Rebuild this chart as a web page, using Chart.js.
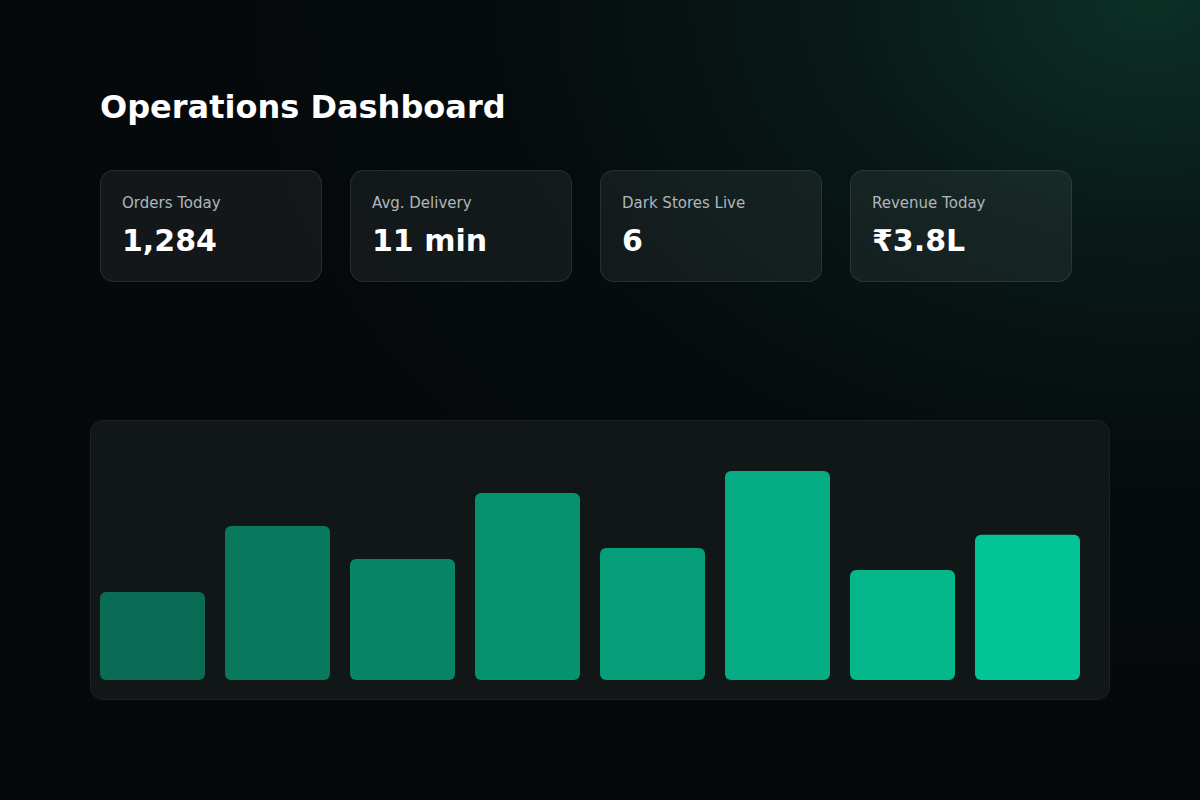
<!DOCTYPE html>
<html>
<head>
<meta charset="utf-8">
<script src="https://cdn.jsdelivr.net/npm/chart.js@4.4.1/dist/chart.umd.min.js"></script>
<style>
  html, body { margin: 0; padding: 0; }
  body {
    width: 1200px; height: 800px; overflow: hidden; position: relative;
    font-family: "DejaVu Sans", sans-serif;
    background-color: #05090c;
    background-image: radial-gradient(ellipse 1050px 780px at 1150px 0px, rgba(13,52,40,0.9) 0%, rgba(10,36,30,0.6) 30%, rgba(7,20,18,0.3) 60%, rgba(5,9,12,0) 88%);
  }
  h1 {
    position: absolute; left: 100px; top: 87px; margin: 0;
    font-size: 32px; font-weight: bold; color: #ffffff; line-height: 40px;
  }
  .card {
    position: absolute; top: 170px; width: 220px; height: 110px;
    border: 1px solid rgba(255,255,255,0.09); border-radius: 14px;
    background: rgba(255,255,255,0.06);
    box-sizing: content-box;
  }
  .card .lab { position: absolute; left: 21px; top: 23px; font-size: 15px; line-height: 18px; color: #aeb6ba; }
  .card .val { position: absolute; left: 21px; top: 52px; font-size: 30px; line-height: 36px; font-weight: bold; color: #ffffff; }
  .panel {
    position: absolute; left: 90px; top: 420px; width: 1018px; height: 278px;
    background: #111617; border: 1px solid rgba(255,255,255,0.05); border-radius: 14px;
  }
  .chartbox { position: absolute; left: 90px; top: 460px; width: 1000px; height: 220px; }
</style>
</head>
<body>
<h1>Operations Dashboard</h1>
<div id="cards"></div>
<div class="panel"></div>
<div class="chartbox"><canvas id="c"></canvas></div>
<script>
const kpiLabels = ["Orders Today", "Avg. Delivery", "Dark Stores Live", "Revenue Today"];
const kpiValues = ["1,284", "11 min", "6", "₹3.8L"];
const categories = ["8 AM", "10 AM", "12 PM", "2 PM", "4 PM", "6 PM", "8 PM", "10 PM"];
const orders = [40, 70, 55, 85, 60, 95, 50, 66];

const cardsEl = document.getElementById("cards");
kpiLabels.forEach((l, i) => {
  const d = document.createElement("div");
  d.className = "card";
  d.style.left = (100 + i * 250) + "px";
  d.innerHTML = '<div class="lab"></div><div class="val"></div>';
  d.querySelector(".lab").textContent = l;
  d.querySelector(".val").textContent = kpiValues[i];
  cardsEl.appendChild(d);
});

const c0 = [10, 108, 84], c1 = [3, 196, 148];
function barColor(ctx) {
  const n = categories.length - 1;
  const t = ctx.dataIndex / n;
  const m = c0.map((v, k) => Math.round(v + (c1[k] - v) * t));
  return `rgb(${m[0]},${m[1]},${m[2]})`;
}

new Chart(document.getElementById("c"), {
  type: "bar",
  data: {
    labels: categories,
    datasets: [{
      data: orders,
      backgroundColor: barColor,
      borderRadius: 6,
      borderSkipped: false,
      barPercentage: 0.84,
      categoryPercentage: 1.0
    }]
  },
  options: {
    responsive: true,
    maintainAspectRatio: false,
    animation: false,
    layout: { padding: 0 },
    plugins: { legend: { display: false }, tooltip: { enabled: false } },
    scales: {
      x: { display: false, offset: true, grid: { display: false } },
      y: { display: false, min: 0, max: 100, grid: { display: false } }
    }
  }
});
</script>
</body>
</html>
